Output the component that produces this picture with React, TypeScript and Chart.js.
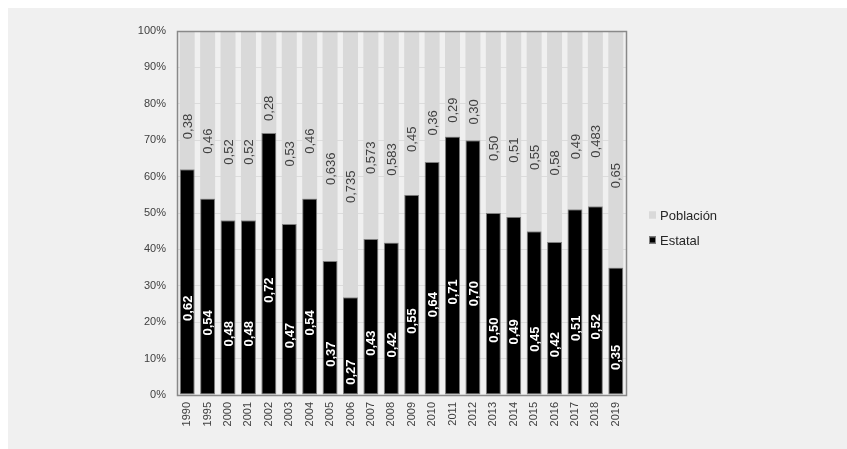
import React, { useEffect, useRef } from "react";
import { Chart, registerables } from "chart.js";

Chart.register(...registerables);

const years = ["1990","1995","2000","2001","2002","2003","2004","2005","2006","2007","2008","2009","2010","2011","2012","2013","2014","2015","2016","2017","2018","2019"];
const estatal = [0.62,0.54,0.48,0.48,0.72,0.47,0.54,0.37,0.27,0.43,0.42,0.55,0.64,0.71,0.70,0.50,0.49,0.45,0.42,0.51,0.52,0.35];
const poblacion = [0.38,0.46,0.52,0.52,0.28,0.53,0.46,0.636,0.735,0.573,0.583,0.45,0.36,0.29,0.30,0.50,0.51,0.55,0.58,0.49,0.483,0.65];
const yTicks = ["0%","10%","20%","30%","40%","50%","60%","70%","80%","90%","100%"];

const FONT = "'Liberation Sans', Arial, sans-serif";

function fmt(v: number): string {
  const s = v.toString();
  const dec = (s.split(".")[1] || "").length;
  return v.toFixed(Math.max(2, dec)).replace(".", ",");
}

export default function App() {
  const ref = useRef<HTMLCanvasElement | null>(null);
  useEffect(() => {
    if (!ref.current) return;
    const estPct = estatal.map((v, i) => (v / (v + poblacion[i])) * 100);
    const pobPct = poblacion.map((v, i) => (v / (v + estatal[i])) * 100);
    const rawVals = [poblacion, estatal];

    const labelPlugin = {
      id: "labels",
      afterDatasetsDraw(chart: any) {
        const ctx = chart.ctx;
        chart.data.datasets.forEach((ds: any, di: number) => {
          const meta = chart.getDatasetMeta(di);
          const raw = ds.label === "Estatal" ? estatal : poblacion;
          meta.data.forEach((el: any, i: number) => {
            const p = el.getProps(["x", "y", "base"], true);
            const cy = (p.y + p.base) / 2;
            ctx.save();
            ctx.translate(p.x + 1, cy + 39);
            ctx.rotate(-Math.PI / 2);
            ctx.textAlign = "left";
            ctx.textBaseline = "middle";
            if (ds.label === "Estatal") {
              ctx.font = "bold 13px " + FONT;
              ctx.fillStyle = "#ffffff";
            } else {
              ctx.font = "13px " + FONT;
              ctx.fillStyle = "#404040";
            }
            ctx.fillText(fmt(raw[i]), 0, 0);
            ctx.restore();
          });
        });
      },
      afterDraw(chart: any) {
        const ctx = chart.ctx;
        const a = chart.chartArea;
        ctx.save();
        ctx.strokeStyle = "#898989";
        ctx.lineWidth = 1.5;
        ctx.strokeRect(Math.round(a.left) + 0.5, Math.round(a.top) + 0.5, Math.round(a.right - a.left), Math.round(a.bottom - a.top));
        // legend
        const items = [
          { label: "Población", color: "#d9d9d9", border: "#d9d9d9", y: 207 },
          { label: "Estatal", color: "#000000", border: "#7f7f7f", y: 232 },
        ];
        ctx.font = "13px " + FONT;
        ctx.textBaseline = "middle";
        ctx.textAlign = "left";
        items.forEach((it) => {
          ctx.fillStyle = it.color;
          ctx.fillRect(641, it.y - 3.5, 7, 7);
          ctx.strokeStyle = it.border;
          ctx.lineWidth = 1;
          ctx.strokeRect(641.5, it.y - 3, 6, 6);
          ctx.fillStyle = "#262626";
          ctx.fillText(it.label, 652, it.y + 1);
        });
        ctx.restore();
      },
    };

    const chart = new Chart(ref.current, {
      type: "bar",
      data: {
        labels: years,
        datasets: [
          {
            label: "Estatal",
            data: estPct,
            backgroundColor: "#000000",
            borderColor: "#7f7f7f",
            borderWidth: 1,
            borderSkipped: false,
            categoryPercentage: 1,
            barPercentage: 0.735,
            stack: "s",
            order: 1,
          },
          {
            label: "Población",
            data: pobPct,
            backgroundColor: "#d9d9d9",
            borderWidth: 0,
            categoryPercentage: 1,
            barPercentage: 0.735,
            stack: "s",
            order: 2,
          },
        ],
      },
      options: {
        responsive: false,
        animation: false,
        devicePixelRatio: 1,
        layout: { padding: { left: 0, right: 221, top: 23, bottom: 0 } },
        plugins: { legend: { display: false }, tooltip: { enabled: false } },
        scales: {
          x: {
            stacked: true,
            grid: { display: false, drawTicks: false },
            border: { display: false },
            ticks: {
              minRotation: 90,
              maxRotation: 90,
              autoSkip: false,
              padding: 7,
              color: "#404040",
              font: { family: FONT, size: 11 },
            },
            afterFit(scale: any) {
              scale.height = 54;
            },
          },
          y: {
            stacked: true,
            min: 0,
            max: 100,
            grid: { color: "#dcdcdc", lineWidth: 1, drawTicks: false },
            border: { display: false },
            ticks: {
              stepSize: 10,
              padding: 11,
              color: "#404040",
              font: { family: FONT, size: 11 },
              callback: (v: any) => yTicks[Math.round(Number(v) / 10)],
            },
            afterFit(scale: any) {
              scale.width = 169;
            },
          },
        },
      },
      plugins: [labelPlugin],
    });
    return () => chart.destroy();
  }, []);

  return (
    <div style={{ position: "fixed", left: 8, top: 8, width: 839, height: 441, background: "#f0f0f0" }}>
      <canvas ref={ref} width={839} height={441} style={{ display: "block" }} />
    </div>
  );
}
